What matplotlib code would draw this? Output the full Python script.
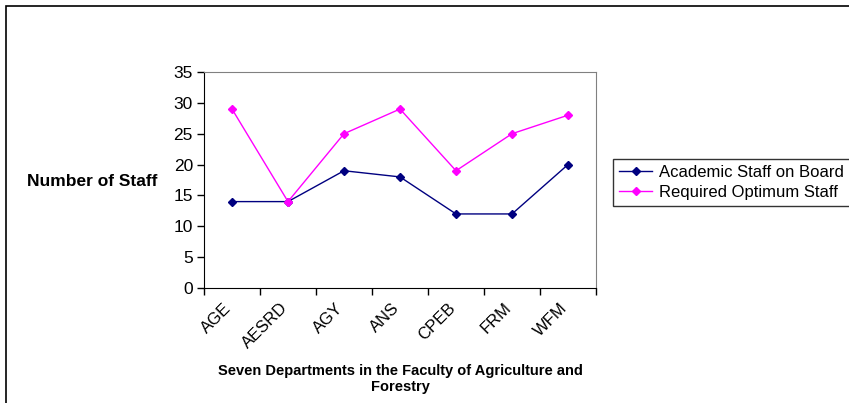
import numpy as np
import matplotlib.pyplot as plt
from matplotlib.patches import Rectangle

# --- dati ---
departments = ["AGE", "AESRD", "AGY", "ANS", "CPEB", "FRM", "WFM"]
on_board = [14, 14, 19, 18, 12, 12, 20]
required = [29, 14, 25, 29, 19, 25, 28]

plt.rcParams['font.family'] = ['Liberation Sans', 'DejaVu Sans']

fig = plt.figure(figsize=(8.49, 4.03), dpi=100)
# cornice esterna (tagliata a destra e in basso come nell'originale)
fig.patches.append(Rectangle((6 / 849, -0.05), 1.2, 1 - 6 / 403 + 0.05,
                             transform=fig.transFigure, fill=False,
                             edgecolor="black", linewidth=1.2))

ax = fig.add_axes([204 / 849, 1 - 288 / 403, 392 / 849, 216 / 403])
x = np.arange(len(departments))
ax.plot(x, on_board, color="#000080", linewidth=1, marker="D", markersize=4,
        label="Academic Staff on Board")
ax.plot(x, required, color="#FF00FF", linewidth=1, marker="D", markersize=4,
        label="Required Optimum Staff")

ax.set_xlim(-0.5, len(departments) - 0.5)
ax.set_ylim(0, 35)
ax.set_yticks(range(0, 36, 5))
ax.tick_params(axis="y", labelsize=12.5, length=5, width=1, pad=3)

# tacche sui bordi delle categorie, etichette al centro
ax.set_xticks(np.arange(-0.5, len(departments), 1.0))
ax.set_xticklabels([])
ax.tick_params(axis="x", length=5, width=1)
for xi, lab in zip(x, departments):
    ax.text(xi - 0.15, -2.0, lab, rotation=45, ha="right", va="top",
            rotation_mode="anchor", fontsize=12,
            transform=ax.transData)

ax.spines["left"].set_color("black")
ax.spines["bottom"].set_color("black")
ax.spines["top"].set_color("#808080")
ax.spines["right"].set_color("#808080")

fig.text(27 / 849, 1 - 181 / 403, "Number of Staff", fontsize=12.5,
         fontweight="bold", ha="left", va="center")
fig.text(400 / 849, 1 - 379 / 403,
         "Seven Departments in the Faculty of Agriculture and\nForestry",
         fontsize=10.5, fontweight="bold", ha="center", va="center",
         linespacing=1.25)

leg = ax.legend(loc="upper left", bbox_to_anchor=(613 / 849, 1 - 159 / 403),
                bbox_transform=fig.transFigure, fontsize=12, frameon=True,
                fancybox=False, handlelength=2.0, borderpad=0.35,
                labelspacing=0.3, handletextpad=0.4, borderaxespad=0)
leg.get_frame().set_edgecolor("black")
leg.get_frame().set_linewidth(1)

plt.savefig("out.png")
